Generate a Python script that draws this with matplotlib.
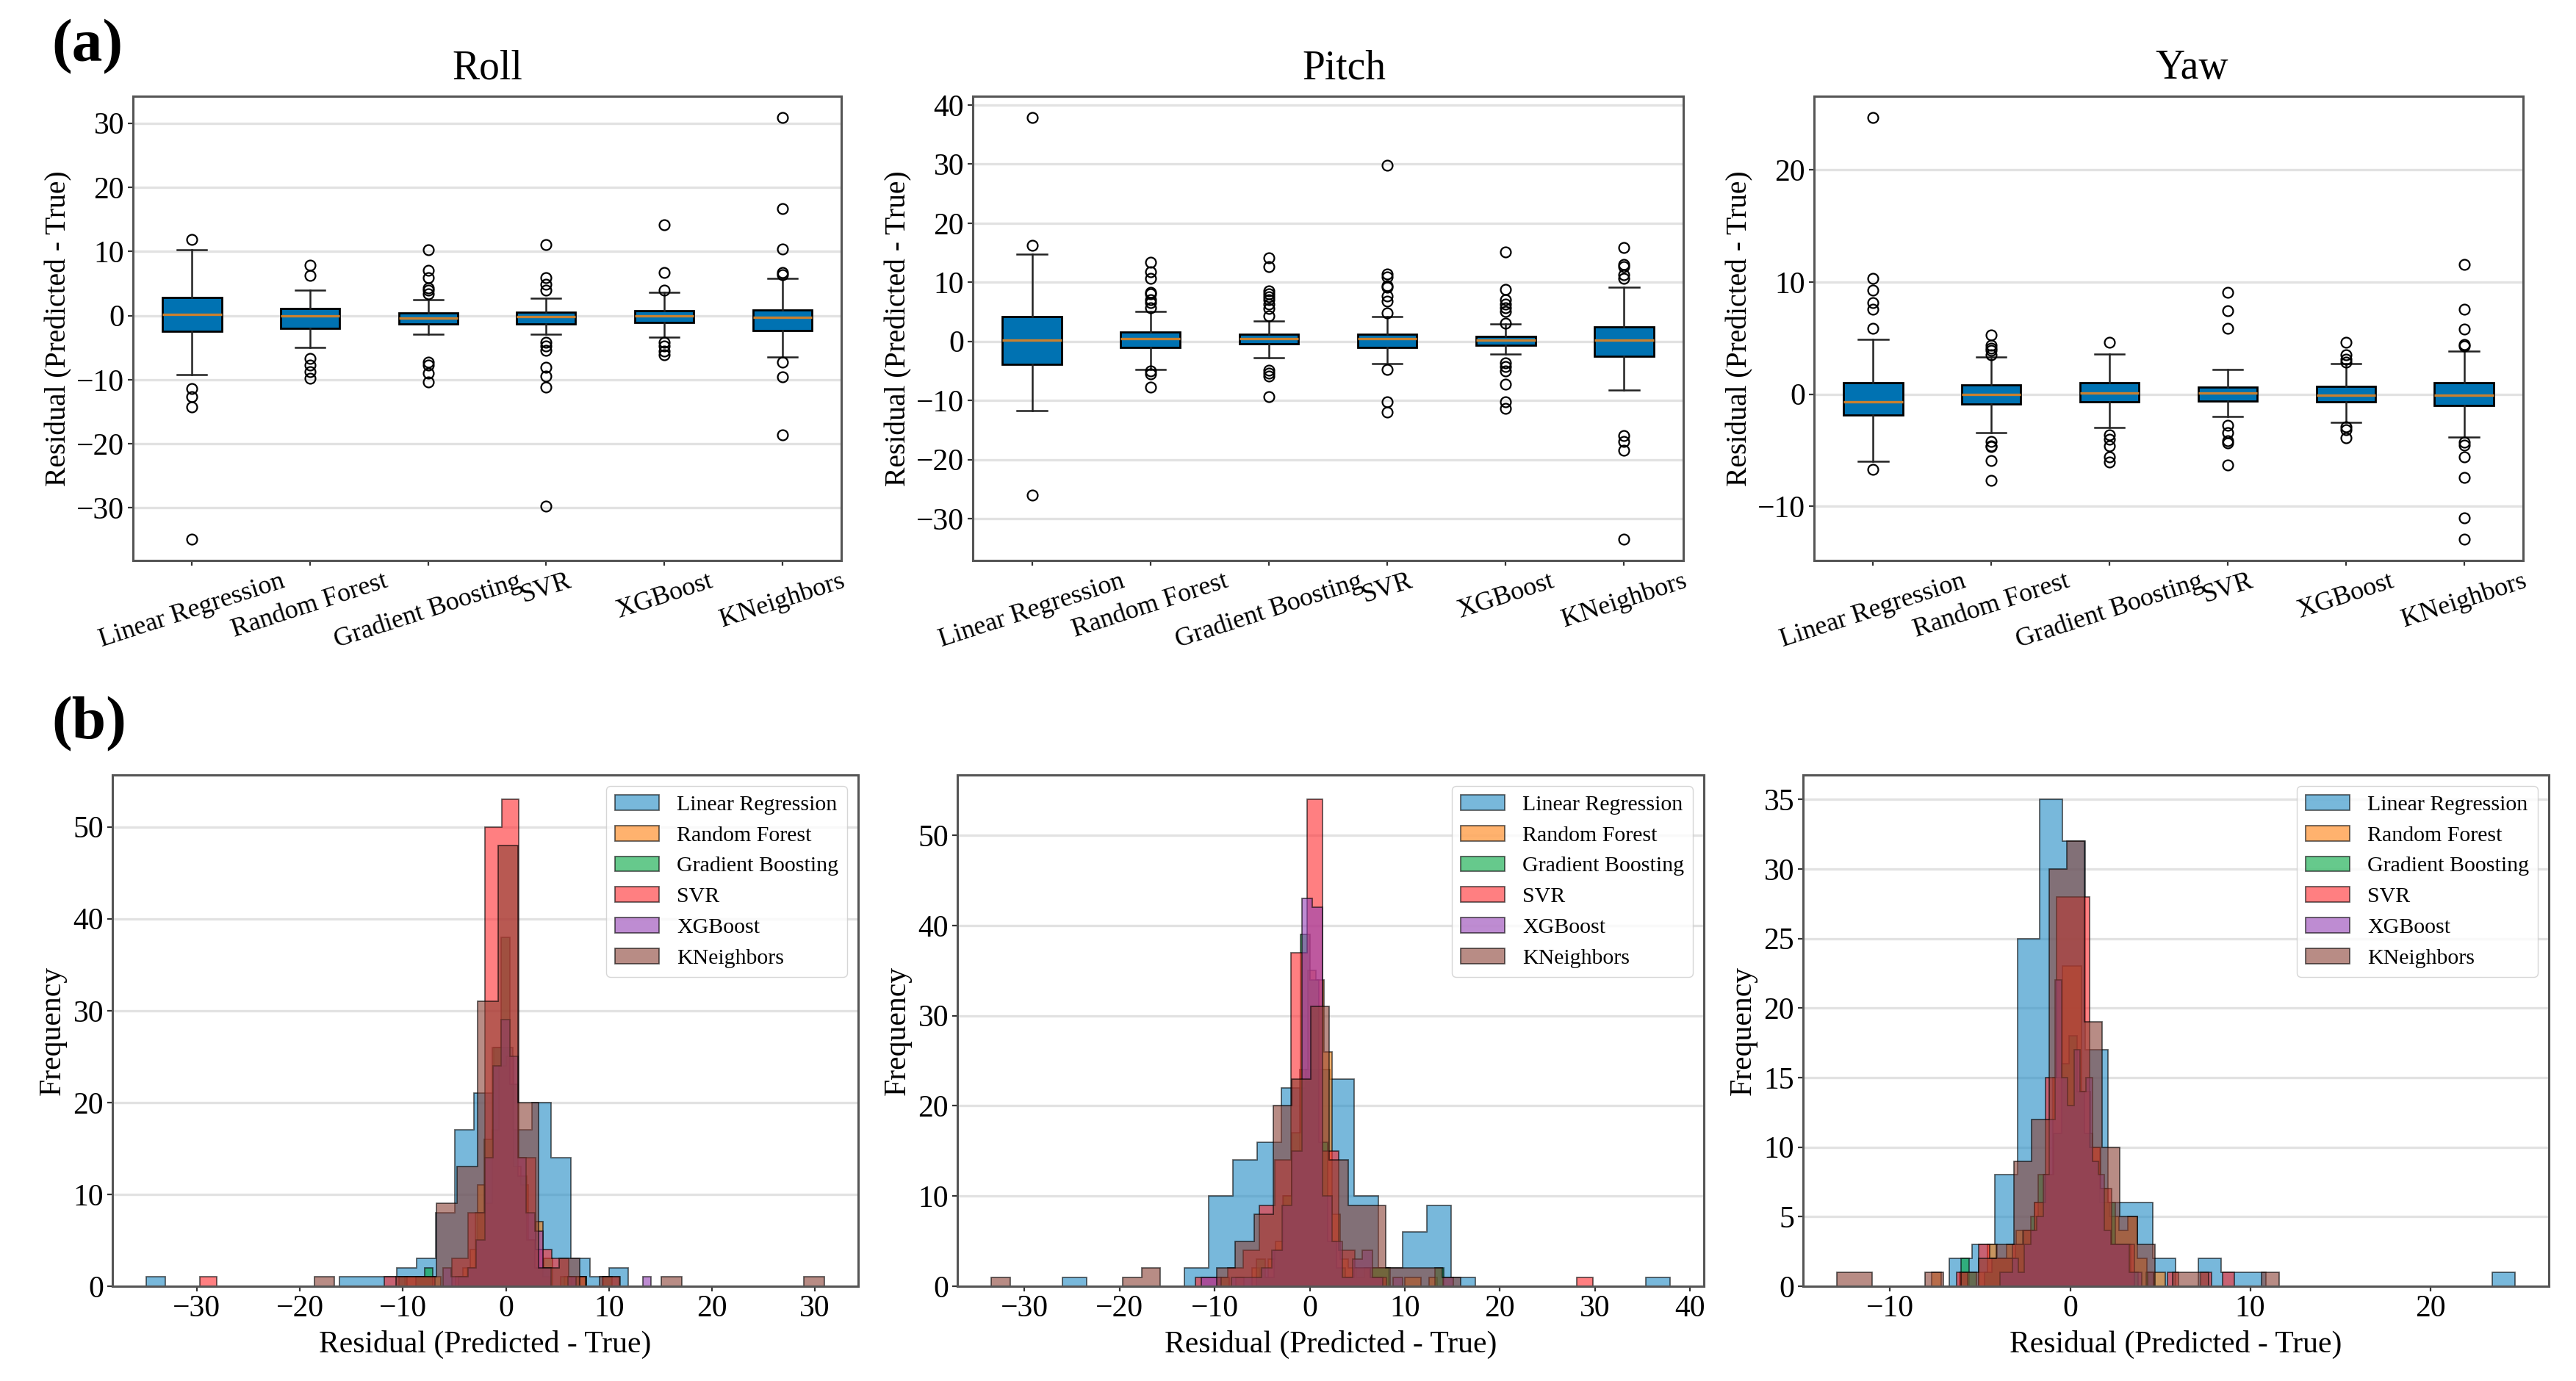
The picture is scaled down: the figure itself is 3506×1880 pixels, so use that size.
import numpy as np
import matplotlib
matplotlib.use('Agg')
import matplotlib.pyplot as plt
from matplotlib.ticker import MultipleLocator

plt.rcParams['font.family'] = ['Liberation Serif', 'DejaVu Serif']

models = ['Linear Regression', 'Random Forest', 'Gradient Boosting', 'SVR', 'XGBoost', 'KNeighbors']
hist_colors = ['#1f8ac4', '#ff7f0e', '#00a63f', '#ff2a2e', '#9440b4', '#8a4034']
panel_titles = ['Roll', 'Pitch', 'Yaw']

# box plots, one value per model
roll_hi = [10.2, 4.0, 2.5, 2.7, 3.6, 5.8]
roll_q3 = [2.8, 1.05, 0.4, 0.5, 0.7, 0.9]
roll_med = [0.2, -0.1, -0.4, -0.2, 0.0, -0.3]
roll_q1 = [-2.5, -2.0, -1.3, -1.3, -1.1, -2.4]
roll_lo = [-9.2, -5.0, -2.9, -2.9, -3.4, -6.5]
roll_fliers = [
    [11.9, -11.4, -12.7, -14.3, -34.9],
    [7.8, 6.3, -6.7, -7.7, -8.7, -9.8],
    [10.3, 7.1, 5.9, 4.3, 3.9, 3.4, -7.3, -7.7, -9.0, -10.4],
    [11.0, 5.9, 4.9, 3.9, -4.2, -4.7, -5.4, -8.1, -9.5, -11.2, -29.7],
    [14.1, 6.7, 3.9, -4.2, -4.8, -5.5, -6.1],
    [30.9, 16.7, 10.4, 6.7, 6.4, -7.3, -9.6, -18.6],
]

pitch_hi = [14.7, 5.0, 3.5, 4.2, 3.0, 9.2]
pitch_q3 = [4.2, 1.6, 1.25, 1.25, 0.8, 2.5]
pitch_med = [0.25, 0.45, 0.45, 0.45, 0.25, 0.25]
pitch_q1 = [-3.9, -1.0, -0.4, -1.0, -0.7, -2.5]
pitch_lo = [-11.7, -4.7, -2.8, -3.8, -2.1, -8.3]
pitch_fliers = [
    [37.9, 16.3, -26.0],
    [13.4, 11.8, 10.7, 8.3, 8.0, 7.1, 6.6, 5.7, -5.0, -5.5, -7.8],
    [14.1, 12.7, 8.6, 8.1, 7.6, 7.0, 6.3, 5.6, 4.3, -4.9, -5.4, -5.9, -9.4],
    [29.8, 11.4, 10.9, 9.4, 9.1, 7.7, 6.8, 4.8, -4.8, -10.2, -12.0],
    [15.1, 8.8, 7.0, 6.3, 5.7, 5.1, 3.1, -3.6, -4.3, -5.0, -7.3, -10.2, -11.4],
    [15.9, 13.0, 12.6, 11.3, 10.6, -16.0, -16.9, -18.4, -33.5],
]

yaw_hi = [4.9, 3.3, 3.6, 2.2, 2.7, 3.85]
yaw_q3 = [1.0, 0.85, 1.0, 0.6, 0.7, 1.0]
yaw_med = [-0.65, 0.0, 0.1, 0.1, -0.1, -0.1]
yaw_q1 = [-1.85, -0.9, -0.7, -0.6, -0.7, -1.0]
yaw_lo = [-6.0, -3.4, -3.0, -2.0, -2.5, -3.8]
yaw_fliers = [
    [24.7, 10.3, 9.3, 8.2, 7.6, 5.9, -6.7],
    [5.3, 4.35, 4.1, 3.9, 3.5, -4.2, -4.6, -4.7, -5.9, -7.7],
    [4.65, -3.6, -4.0, -4.6, -5.6, -6.05],
    [9.1, 7.45, 5.9, -2.8, -3.45, -4.15, -4.35, -6.3],
    [4.65, 3.5, 3.1, 2.85, -2.9, -3.2, -3.9],
    [11.6, 7.6, 5.8, 4.45, 4.3, -4.3, -4.55, -5.6, -7.45, -11.05, -12.95],
]

# histogram counts, 25 bins between each model's min and max
roll_counts = [
    [1, 0, 0, 0, 0, 0, 0, 0, 0, 0, 1, 1, 1, 2, 3, 8, 17, 21, 26, 17, 20, 14, 3, 1, 2],
    [1, 1, 1, 1, 1, 0, 0, 1, 2, 4, 11, 9, 17, 24, 25, 13, 11, 5, 7, 1, 0, 0, 1, 0, 1],
    [1, 0, 1, 2, 0, 0, 0, 1, 2, 8, 16, 26, 38, 22, 12, 5, 2, 3, 0, 1, 1, 1, 0, 0, 1],
    [1, 0, 0, 0, 0, 0, 0, 0, 0, 0, 0, 1, 1, 1, 0, 3, 8, 50, 53, 14, 4, 3, 1, 0, 1],
    [2, 1, 1, 2, 5, 14, 24, 29, 25, 14, 8, 6, 2, 0, 0, 1, 0, 0, 0, 0, 0, 0, 0, 0, 1],
    [1, 0, 0, 0, 1, 1, 9, 13, 31, 48, 20, 2, 3, 0, 1, 0, 0, 1, 0, 0, 0, 0, 0, 0, 1],
]
pitch_counts = [
    [1, 0, 0, 0, 0, 2, 10, 14, 16, 22, 24, 23, 10, 2, 6, 9, 1, 0, 0, 0, 0, 0, 0, 0, 1],
    [1, 0, 2, 1, 3, 5, 10, 15, 24, 35, 34, 26, 8, 3, 2, 1, 2, 2, 2, 0, 0, 1, 1, 0, 1],
    [1, 0, 0, 0, 3, 1, 4, 10, 17, 39, 34, 16, 5, 2, 1, 2, 2, 2, 2, 0, 0, 0, 0, 0, 2],
    [1, 1, 2, 4, 9, 14, 37, 54, 15, 4, 2, 1, 0, 0, 0, 0, 0, 0, 0, 0, 0, 0, 0, 0, 1],
    [1, 1, 0, 1, 1, 1, 2, 4, 9, 15, 43, 42, 10, 5, 1, 3, 4, 1, 0, 1, 0, 0, 0, 0, 1],
    [1, 0, 0, 0, 0, 0, 0, 1, 2, 0, 0, 0, 2, 5, 8, 20, 23, 31, 14, 9, 9, 2, 2, 2, 1],
]
yaw_counts = [
    [2, 3, 8, 25, 35, 32, 17, 6, 6, 2, 0, 2, 1, 1, 0, 0, 0, 0, 0, 0, 0, 0, 0, 0, 1],
    [1, 0, 0, 1, 0, 1, 3, 2, 3, 4, 4, 6, 8, 15, 23, 23, 14, 10, 6, 5, 4, 5, 2, 1, 1],
    [2, 1, 0, 1, 2, 2, 2, 3, 4, 5, 8, 8, 11, 16, 18, 14, 11, 9, 7, 6, 3, 3, 1, 0, 1],
    [1, 0, 3, 2, 2, 3, 4, 6, 15, 28, 28, 28, 10, 7, 3, 3, 0, 0, 0, 1, 0, 0, 1, 0, 1],
    [1, 1, 2, 1, 3, 4, 5, 8, 12, 22, 15, 13, 17, 14, 15, 9, 8, 4, 3, 3, 3, 1, 1, 0, 1],
    [1, 1, 0, 0, 0, 1, 0, 1, 2, 3, 9, 12, 30, 32, 19, 10, 5, 3, 0, 1, 1, 0, 0, 0, 1],
]

box_data = [
    (roll_lo, roll_q1, roll_med, roll_q3, roll_hi, roll_fliers),
    (pitch_lo, pitch_q1, pitch_med, pitch_q3, pitch_hi, pitch_fliers),
    (yaw_lo, yaw_q1, yaw_med, yaw_q3, yaw_hi, yaw_fliers),
]
hist_data = [roll_counts, pitch_counts, yaw_counts]
box_steps = [10, 10, 10]
hist_steps = [10, 10, 5]

W, H = 3506, 1880
fig = plt.figure(figsize=(W / 100, H / 100), dpi=100)


def px_axes(left, right, top, bottom):
    return fig.add_axes([left / W, 1 - bottom / H, (right - left) / W, (bottom - top) / H])


def style_axes(ax):
    for s in ax.spines.values():
        s.set_linewidth(2.2)
        s.set_color('#555555')
    ax.grid(axis='y', color='#e2e2e2', linewidth=2.4)
    ax.set_axisbelow(True)
    ax.tick_params(axis='both', labelsize=30, length=5, width=1.6, color='#333333', pad=3.5)


box_pos = [(181, 1145), (1324, 2291), (2469, 3434)]
hist_pos = [(153, 1168), (1303, 2319), (2454, 3469)]
title_x = [0.5, 0.523, 0.533]

for n, title in enumerate(panel_titles):
    # top row, box plots
    ax = px_axes(box_pos[n][0], box_pos[n][1], 131, 763)
    lo, q1, med, q3, hi, fliers = box_data[n]
    stats = []
    for i, name in enumerate(models):
        stats.append({'label': name, 'whislo': lo[i], 'q1': q1[i], 'med': med[i],
                      'q3': q3[i], 'whishi': hi[i], 'fliers': fliers[i]})
    ax.bxp(stats, patch_artist=True, widths=0.5,
           boxprops=dict(facecolor='#0072b2', edgecolor='black', linewidth=2),
           medianprops=dict(color='#c9802f', linewidth=2.4),
           whiskerprops=dict(color='#222222', linewidth=1.8),
           capprops=dict(color='#222222', linewidth=1.8),
           flierprops=dict(marker='o', markersize=10, markerfacecolor='none',
                           markeredgecolor='black', markeredgewidth=1.6))
    ax.set_title(title, fontsize=40, pad=17, x=title_x[n])
    ax.set_ylabel('Residual (Predicted - True)', fontsize=28.5)
    ax.yaxis.set_major_locator(MultipleLocator(box_steps[n]))
    style_axes(ax)
    ax.tick_params(axis='x', labelsize=26, rotation=18)

    # bottom row, histograms
    ax = px_axes(hist_pos[n][0], hist_pos[n][1], 1055, 1751)
    for i, name in enumerate(models):
        edges = np.linspace(min(fliers[i]), max(fliers[i]), 26)
        ax.stairs(hist_data[n][i], edges, fill=True, facecolor=hist_colors[i],
                  edgecolor='black', linewidth=1.3, alpha=0.6, label=name)
    ax.set_xlabel('Residual (Predicted - True)', fontsize=30, labelpad=7)
    ax.set_ylabel('Frequency', fontsize=30, labelpad=6)
    ax.yaxis.set_major_locator(MultipleLocator(hist_steps[n]))
    style_axes(ax)
    ax.set_ylim(bottom=0)
    ax.legend(loc='upper right', fontsize=21.5)

fig.text(70 / W, 1 - 83 / H, '(a)', fontsize=60, fontweight='bold', va='baseline')
fig.text(70 / W, 1 - 1005 / H, '(b)', fontsize=60, fontweight='bold', va='baseline')

plt.savefig('out.png', dpi=100)
